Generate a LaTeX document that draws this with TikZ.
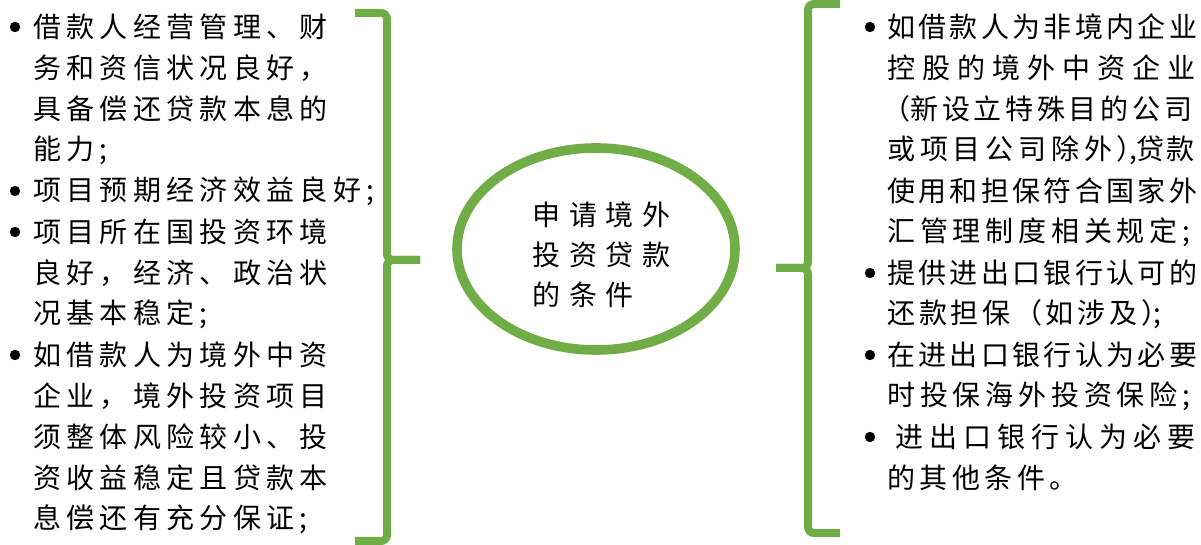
\documentclass[tikz,border=0pt]{standalone}
\usepackage{fontspec}
\newfontfamily\cjk{Noto Sans CJK SC}
\definecolor{brgreen}{HTML}{70AD47}
\newdimen\px \px=0.5pt
\ExplSyntaxOn
\NewDocumentCommand\pitched{mm}{\tl_map_inline:nn {#2}{\makebox[#1\px][l]{##1}}}
\ExplSyntaxOff
\begin{document}
\begin{tikzpicture}[x=0.5pt,y=-0.5pt,
  txt/.style={anchor=west,inner sep=0pt,font=\cjk\fontsize{14pt}{16pt}\selectfont},
  bracepath/.style={draw=brgreen,line width=4pt,rounded corners=3pt},
  bul/.style={fill=black}]
\useasboundingbox (0,0) rectangle (1201,545);
% ---- left column ----
\node[txt] (l1)  at (33,27)  {\pitched{33.3}{借款人经营管理、财}};
\node[txt] (l2)  at (33,68)  {\pitched{33.3}{务和资信状况良好，}};
\node[txt] (l3)  at (33,109) {\pitched{33.3}{具备偿还贷款本息的}};
\node[txt] (l4)  at (33,150) {\pitched{33.3}{能力;}};
\node[txt] (l5)  at (33,191) {\pitched{33.3}{项目预期经济效益良好;}};
\node[txt] (l6)  at (33,232) {\pitched{33.3}{项目所在国投资环境}};
\node[txt] (l7)  at (33,273) {\pitched{33.3}{良好，经济、政治状}};
\node[txt] (l8)  at (33,314) {\pitched{33.3}{况基本稳定;}};
\node[txt] (l9)  at (33,355) {\pitched{33.3}{如借款人为境外中资}};
\node[txt] (l10) at (33,396) {\pitched{33.3}{企业，境外投资项目}};
\node[txt] (l11) at (33,437) {\pitched{33.3}{须整体风险较小、投}};
\node[txt] (l12) at (33,478) {\pitched{33.3}{资收益稳定且贷款本}};
\node[txt] (l13) at (33,519) {\pitched{33.3}{息偿还有充分保证;}};
\foreach \yy in {27,191,232,355} \fill[bul] (15,\yy) circle (2.6pt);
% ---- left brace ----
\path[bracepath] (355,13) -- (387,13) -- (387,260) -- (420,260);
\path[bracepath] (420,260) -- (387,260) -- (387,541) -- (355,541);
% ---- centre ----
\draw[brgreen,line width=4.8pt] (596,249) ellipse [x radius=139, y radius=101];
\node[txt] (c1) at (532,215) {\pitched{36.7}{申请境外}};
\node[txt] (c2) at (532,255) {\pitched{36.7}{投资贷款}};
\node[txt] (c3) at (532,295) {\pitched{36.7}{的条件}};
% ---- right brace ----
\path[bracepath] (840,4) -- (808,4) -- (808,268) -- (776,268);
\path[bracepath] (776,268) -- (808,268) -- (808,533) -- (840,533);
% ---- right column ----
\node[txt] (r1)  at (887,27)  {\pitched{31.3}{如借款人为非境内企业}};
\node[txt] (r2)  at (887,68)  {\pitched{35}{控股的境外中资企业}};
\node[txt] (r3)  at (887,109) {\makebox[23\px][r]{（}\pitched{31.7}{新设立特殊目的公司}};
\node[txt] (r4)  at (887,150) {\pitched{32.8}{或项目公司除外}\makebox[12\px][l]{）},贷\hspace{2\px}款};
\node[txt] (r5)  at (887,191) {\pitched{31.3}{使用和担保符合国家外}};
\node[txt] (r6)  at (887,232) {\pitched{32.8}{汇管理制度相关规定;}};
\node[txt] (r7)  at (887,273) {\pitched{31.3}{提供进出口银行认可的}};
\node[txt] (r8)  at (887,314) {\pitched{31.7}{还款担保（如涉及}\makebox[12\px][l]{）};};
\node[txt] (r9)  at (887,355) {\pitched{31.3}{在进出口银行认为必要}};
\node[txt] (r10) at (887,396) {\pitched{32.8}{时投保海外投资保险;}};
\node[txt] (r11) at (895,437) {\pitched{34}{进出口银行认为必要}};
\node[txt] (r12) at (887,478) {\pitched{32.5}{的其他条件。}};
\foreach \yy in {27,273,355,437} \fill[bul] (870,\yy) circle (2.6pt);
\end{tikzpicture}
\end{document}
